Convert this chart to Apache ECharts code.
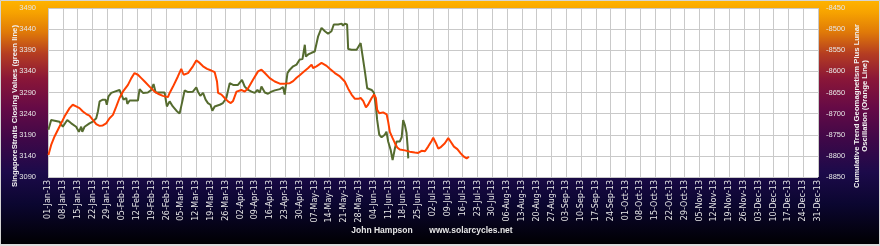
<!DOCTYPE html>
<html><head><meta charset="utf-8">
<script src="https://cdn.jsdelivr.net/npm/echarts@6/dist/echarts.min.js"></script>
<style>html,body{margin:0;padding:0;background:#fff}#c{width:880px;height:246px}</style>
</head><body><div id="c"></div>
<script>
// x axis: days since 01-Jan-2013, weekly ticks
const xMin = 0, xMax = 364, xStep = 7;
const months = ['Jan','Feb','Mar','Apr','May','Jun','Jul','Aug','Sep','Oct','Nov','Dec'];
// left axis (green) and right axis (orange) ranges
const leftMin = 3090, leftMax = 3490;
const rightMin = -8850, rightMax = -8450;
const yStep = 50;

// Singapore Straits closing values (green line)
const greenDay = [0.2,1.5,5.4,7,9.1,11,13.3,14.6,15.7,16.2,
17.3,19.6,21.2,22.8,23.6,24.4,25.9,27.2,27.8,28.6,
29.9,31.5,33.8,34.6,35.7,37,37.5,38.6,42.5,43.3,
44.9,47.2,48.8,49.9,50.9,55.1,56.2,57.5,59,60.7,
62.2,63.5,64.6,66.2,68.5,70.1,70.9,72,73.3,74.5,
75.6,76.8,77.7,78.8,81.2,82.7,84.3,85.9,87.5,89.8,
90.6,91.7,93,94.6,96.2,97.7,99,100.1,100.9,102.5,
104,105.6,107.2,109.6,111.1,111.9,113.2,114.3,115.9,117.5,
119,120.3,121.4,121.9,123,124.6,126.1,127.7,129.3,130.9,
132.4,134,135.1,137.2,138.8,139.5,140.3,141.4,141.9,143.5,
145.9,146.6,147.8,148.7,149.8,150.9,151.8,153,154.1,155,
155.6,156.6,157.7,159.2,160,160.8,162,162.9,164,164.8,
166.3,167.2,167.9,168.7,169.5,170,170.3];
const greenValue = [3202,3225,3221,3209,3225,3217,3209,3197,3209,3197,
3209,3217,3221,3229,3245,3269,3273,3273,3261,3281,
3289,3292,3296,3298,3273,3277,3263,3271,3271,3298,
3289,3290,3296,3310,3290,3290,3257,3269,3257,3247,
3240,3269,3295,3291,3292,3302,3292,3282,3289,3273,
3265,3261,3247,3257,3261,3265,3277,3312,3308,3308,
3312,3320,3304,3296,3292,3289,3296,3290,3304,3290,
3287,3292,3295,3298,3303,3285,3336,3344,3352,3356,
3368,3369,3403,3375,3380,3384,3387,3423,3443,3435,
3429,3435,3451,3451,3453,3448,3453,3451,3393,3391,
3391,3393,3407,3407,3340,3300,3296,3296,3289,3257,
3225,3190,3184,3190,3197,3174,3154,3130,3158,3174,
3174,3184,3225,3213,3194,3162,3134];

// Cumulative trend geomagnetism plus lunar oscillation (orange line)
const orangeDay = [0.2,1.5,3.1,5.4,7.8,10.2,11.7,13.3,14.9,16.5,
18.1,19.6,21.2,22.8,24.4,25.9,27.5,29.1,30.7,32.3,
33.8,35.4,37.8,39.4,40.9,42.5,44.1,45.7,48,50.4,
52,54.3,56.7,57.5,59.1,61.4,63,64.1,66.2,68.5,
70.1,71.7,73.3,75.2,77.2,78.8,79.9,80.4,82,83.5,
85.1,86.4,87.5,89.1,91.4,93,94.6,96.9,99.3,100.9,
102.5,104.8,107.2,109.6,111.9,114.3,115.9,117.5,119,120.6,
123,124.6,125.3,126.9,129.3,130.1,131.7,133.2,135.6,138,
140.3,141.9,143.5,145.1,146.6,147.8,149,150.3,151.3,153,
154.1,155,155.6,156.6,158.4,160.1,160.8,161.6,162.9,164,
165.1,166.3,168.7,171,173.4,175,176.6,178.2,179.7,181.4,
182.1,183.4,184.5,185.5,187.6,189.2,190.3,191.9,193.5,195.1,
196.6,197.9,199];
const orangeValue = [-8798,-8774,-8754,-8731,-8707,-8687,-8679,-8683,-8687,-8695,
-8701,-8705,-8715,-8725,-8729,-8728,-8723,-8711,-8703,-8683,
-8663,-8648,-8632,-8616,-8604,-8608,-8616,-8624,-8636,-8648,
-8653,-8658,-8661,-8651,-8636,-8612,-8594,-8608,-8604,-8588,
-8574,-8580,-8588,-8594,-8598,-8602,-8624,-8651,-8655,-8663,
-8671,-8675,-8670,-8648,-8644,-8648,-8640,-8620,-8600,-8596,
-8604,-8616,-8624,-8629,-8629,-8628,-8623,-8615,-8609,-8602,
-8592,-8584,-8592,-8588,-8580,-8576,-8587,-8594,-8604,-8612,
-8624,-8641,-8655,-8665,-8665,-8663,-8670,-8685,-8679,-8663,
-8655,-8663,-8691,-8699,-8697,-8702,-8719,-8743,-8758,-8770,
-8780,-8785,-8787,-8790,-8792,-8793,-8788,-8789,-8778,-8764,
-8757,-8770,-8783,-8780,-8770,-8758,-8766,-8778,-8784,-8794,
-8802,-8806,-8802];

const leftTitle = 'SingaporeStraits Closing Values (green line)';
const rightTitle = 'Cumulative Trend Geomagnetism Plus Lunar\nOscillation (Orange Line)';
const footerName = 'John Hampson';
const footerSite = 'www.solarcycles.net';

function dayLabel(d) {
  const dt = new Date(Date.UTC(2013, 0, 1 + d));
  return String(dt.getUTCDate()).padStart(2, '0') + '-' + months[dt.getUTCMonth()] + '-13';
}

const chart = echarts.init(document.getElementById('c'));
const gridLine = { show: true, lineStyle: { color: '#c9c9c9', width: 1 } };
const labelFont = { color: '#e6e6e6', fontFamily: 'Liberation Sans', fontSize: 7.5 };

chart.setOption({
  animation: false,
  backgroundColor: {
    type: 'linear', x: 0, y: 0, x2: 0, y2: 1,
    colorStops: [
      { offset: 0, color: '#ffb400' },
      { offset: 0.05, color: '#f7a300' },
      { offset: 0.13, color: '#e07a08' },
      { offset: 0.22, color: '#b43c22' },
      { offset: 0.32, color: '#8a1638' },
      { offset: 0.44, color: '#650a46' },
      { offset: 0.57, color: '#3e0848' },
      { offset: 0.7, color: '#1c0a4a' },
      { offset: 0.83, color: '#0b0630' },
      { offset: 1, color: '#000000' }
    ]
  },
  grid: { left: 48, right: 62, top: 8, height: 169, show: true, backgroundColor: '#ffffff', borderWidth: 0 },
  xAxis: {
    type: 'value', min: xMin, max: xMax, interval: xStep,
    axisLine: { show: false }, axisTick: { show: false },
    splitLine: gridLine,
    axisLabel: Object.assign({}, labelFont, { fontFamily: 'DejaVu Sans', fontSize: 8, rotate: 90, margin: 3, formatter: v => dayLabel(v) })
  },
  yAxis: [
    {
      type: 'value', min: 0, max: leftMax - leftMin, interval: yStep,
      axisLine: { show: false }, axisTick: { show: false },
      splitLine: gridLine,
      axisLabel: Object.assign({}, labelFont, { margin: 12, formatter: v => String(v + leftMin) })
    },
    {
      type: 'value', min: 0, max: rightMax - rightMin, interval: yStep, position: 'right',
      axisLine: { show: false }, axisTick: { show: false },
      splitLine: { show: false },
      axisLabel: Object.assign({}, labelFont, { margin: 8, formatter: v => String(v + rightMin) })
    }
  ],
  series: [
    {
      type: 'line', yAxisIndex: 0, showSymbol: false, z: 3,
      lineStyle: { color: '#556b2f', width: 2 },
      data: greenDay.map((d, i) => [d, greenValue[i] - leftMin])
    },
    {
      type: 'line', yAxisIndex: 1, showSymbol: false, z: 4,
      lineStyle: { color: '#ff4000', width: 2 },
      data: orangeDay.map((d, i) => [d, orangeValue[i] - rightMin])
    }
  ],
  graphic: [
    { type: 'text', x: 15, y: 106, rotation: Math.PI / 2,
      style: { text: leftTitle, fill: '#f2f2f2', font: 'bold 7.7px "Liberation Sans"', align: 'center', verticalAlign: 'middle' } },
    { type: 'text', x: 861, y: 106, rotation: Math.PI / 2,
      style: { text: rightTitle, fill: '#f2f2f2', font: 'bold 7.7px "Liberation Sans"', align: 'center', verticalAlign: 'middle', lineHeight: 8 } },
    { type: 'text', x: 382, y: 231,
      style: { text: footerName, fill: '#e6e6e6', font: 'bold 8.5px "Liberation Sans"', align: 'center', verticalAlign: 'middle' } },
    { type: 'text', x: 471, y: 231,
      style: { text: footerSite, fill: '#e6e6e6', font: 'bold 8.5px "Liberation Sans"', align: 'center', verticalAlign: 'middle' } },
    { type: 'rect', shape: { x: 0.5, y: 0.5, width: 879, height: 244 }, silent: true,
      style: { fill: 'none', stroke: '#d4d4d4', lineWidth: 1 } },
    { type: 'rect', shape: { x: 0, y: 244, width: 880, height: 2 }, silent: true,
      style: { fill: '#dcdcdc' } }
  ]
});
</script></body></html>
